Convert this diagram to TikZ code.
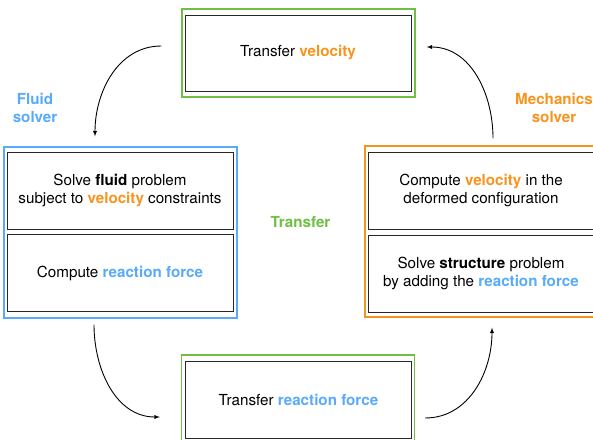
\documentclass[tikz,border=0pt]{standalone}
\usepackage{fontspec}
\setmainfont{TeX Gyre Heros}
\usetikzlibrary{arrows,positioning,calc}
\definecolor{fluid}{RGB}{88,170,250}
\definecolor{mech}{RGB}{247,148,30}
\definecolor{transfer}{RGB}{112,190,68}

\begin{document}
\begin{tikzpicture}[x=1pt, y=1pt,
    frame/.style={rectangle, line width=1.3pt, minimum width=233pt},
    stage/.style={rectangle, draw=black!85, line width=1pt,
                  minimum width=226pt, minimum height=77pt, align=center,
                  font=\fontsize{15.2}{17.5}\selectfont},
    tag/.style={align=center, font=\fontsize{15.2}{17.5}\selectfont\bfseries},
    flow/.style={-latex, line width=0.9pt}
]
    \useasboundingbox (0,0) rectangle (593,-439);

    % Transfer velocity (top)
    \node[frame, draw=transfer, minimum height=88pt] (topframe) at (298.5,-53) {};
    \node[stage, minimum height=76pt] (topbox) at (298,-53)
        {Transfer {\color{mech}\textbf{velocity}}};

    % Fluid solver (left)
    \node[frame, draw=fluid, minimum height=171pt] (leftframe) at (120.5,-232.5) {};
    \node[stage] (solvefluid) at (120,-190.5)
        {Solve \textbf{fluid} problem\\subject to {\color{mech}\textbf{velocity}} constraints};
    \node[stage] (reaction) at (120,-273)
        {Compute {\color{fluid}\textbf{reaction force}}};
    \node[tag, text=fluid] (fluidtag) at (35,-108) {Fluid\\solver};

    % Mechanics solver (right)
    \node[frame, draw=mech, minimum height=171pt] (rightframe) at (481.5,-231.5) {};
    \node[stage] (velocity) at (481,-190.5)
        {Compute {\color{mech}\textbf{velocity}} in the\\deformed configuration};
    \node[stage] (solvestruct) at (481,-273.5)
        {Solve \textbf{structure} problem\\by adding the {\color{fluid}\textbf{reaction force}}};
    \node[tag, text=mech] (mechtag) at (554,-108) {Mechanics\\solver};

    % Transfer reaction force (bottom)
    \node[frame, draw=transfer, minimum height=90pt] (botframe) at (298,-400) {};
    \node[stage] (botbox) at (298.5,-399.5)
        {Transfer {\color{fluid}\textbf{reaction force}}};

    \node[tag, text=transfer] (transfertag) at (300.5,-222) {Transfer};

    % Loop arrows
    \draw[flow] ($(topframe.west)+(-20,7)$) to[out=180, in=90] ($(leftframe.north)+(-25.5,10)$);
    \draw[flow] ($(leftframe.south)+(-26.5,-6)$) to[out=-90, in=180] ($(botframe.west)+(-21,-17)$);
    \draw[flow] ($(botframe.east)+(10,-18)$) to[out=0, in=-90] ($(rightframe.south)+(10.5,-10)$);
    \draw[flow] ($(rightframe.north)+(11.5,7)$) to[out=90, in=0] ($(topframe.east)+(11,6)$);
\end{tikzpicture}
\end{document}
